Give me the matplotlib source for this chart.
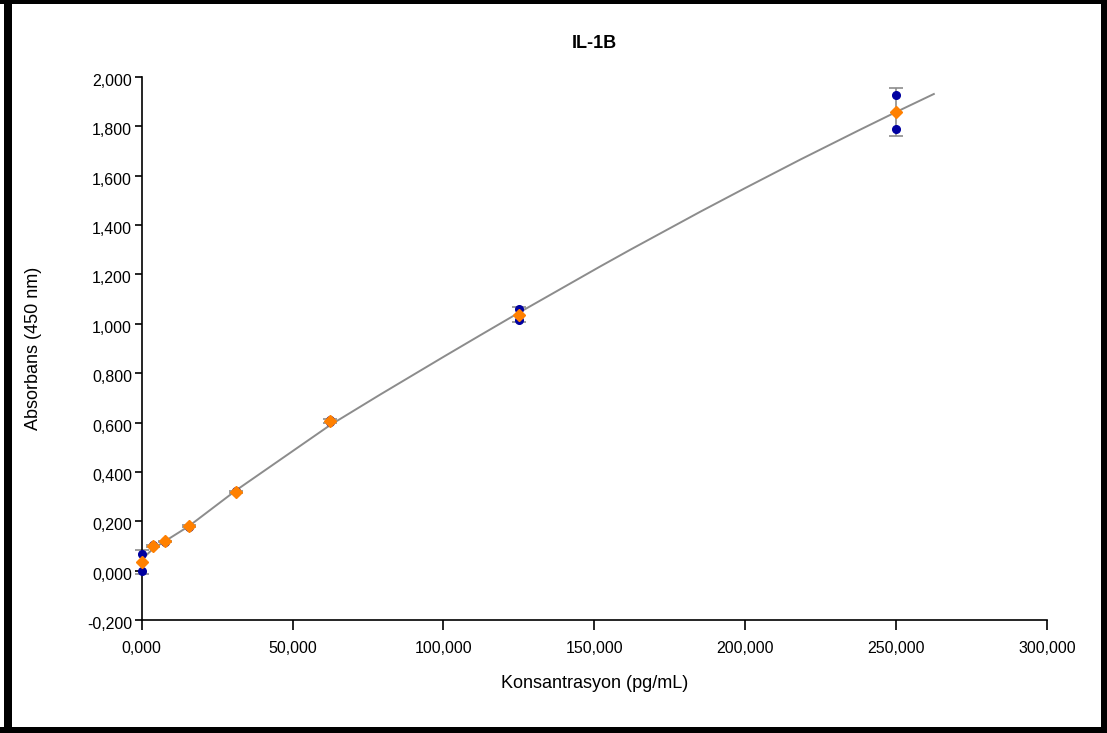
import numpy as np
import matplotlib.pyplot as plt
from matplotlib.ticker import FuncFormatter
from matplotlib.patches import Rectangle
from matplotlib.transforms import ScaledTranslation

plt.rcParams['font.family'] = ['Liberation Sans', 'DejaVu Sans']

# standard concentrations (pg/mL) and the two replicate absorbance readings
conc = [0, 3.906, 7.8125, 15.625, 31.25, 62.5, 125, 250]
rep1 = [0.069, 0.104, 0.121, 0.182, 0.321, 0.612, 1.058, 1.927]
rep2 = [0.000, 0.098, 0.117, 0.176, 0.317, 0.602, 1.017, 1.788]

# fitted standard curve
fit_x = [0, 3.906, 7.8125, 15.625, 31.25, 62.5, 79.0, 100, 112.1, 125, 151.9,
         161.9, 185.1, 200, 218.2, 237.5, 250, 262.5]
fit_y = [0.045, 0.09, 0.12, 0.18, 0.325, 0.59, 0.713, 0.866, 0.953, 1.045, 1.232,
         1.30, 1.454, 1.550, 1.665, 1.783, 1.858, 1.931]

reps = np.array([rep1, rep2])
mean = reps.mean(axis=0)
sd = reps.std(axis=0, ddof=1)

fig = plt.figure(figsize=(11.07, 7.33), dpi=100)
ax = fig.add_axes([0.1280, 0.1542, 0.8178, 0.7408])

ax.plot(fit_x, fit_y, color='#8c8c8c', lw=1.4, zorder=1)
ax.errorbar(conc, mean, yerr=sd, fmt='none', ecolor='#8c8c8c', elinewidth=1.2,
            capsize=5, capthick=1.2, zorder=2, clip_on=False)
for r in (rep1, rep2):
    ax.plot(conc, r, 'o', color='#0000a0', ms=5.5, mec='#0000a0', ls='none',
            zorder=3, clip_on=False)
ax.plot(conc, mean, 'D', color='#ff8000', ms=6, mec='#ff8000', ls='none',
        zorder=4, clip_on=False)

ax.set_xlim(0, 300)
ax.set_ylim(-0.2, 2.0)
ax.set_xticks(np.arange(0, 301, 50))
ax.set_yticks(np.arange(-0.2, 2.01, 0.2))

fmt = FuncFormatter(lambda v, p: f'{v:.3f}'.replace('.', ','))
ax.xaxis.set_major_formatter(fmt)
ax.yaxis.set_major_formatter(fmt)

for s in ('top', 'right'):
    ax.spines[s].set_visible(False)
for s in ('left', 'bottom'):
    ax.spines[s].set_linewidth(1.2)
ax.tick_params(axis='y', direction='out', length=5, width=1.2, labelsize=11.5, pad=2)
ax.tick_params(axis='x', direction='out', length=7, width=1.2, labelsize=11.5, pad=8)

# y tick labels sit a little below their ticks in the original
shift = ScaledTranslation(0, -3 / 100, fig.dpi_scale_trans)
for lab in ax.get_yticklabels():
    lab.set_transform(lab.get_transform() + shift)

ax.set_xlabel('Konsantrasyon (pg/mL)', fontsize=13, labelpad=14)
ax.set_ylabel('Absorbans (450 nm)', fontsize=13, labelpad=32)
fig.text(0.5365, 0.941, 'IL-1B', ha='center', va='center', fontsize=13, fontweight='bold')

# black frame round the picture
W, H = 1107, 733
for (x0, y0, w, h) in [(4, 0, 8, H), (0, H - 4, W, 4), (1101, 0, 6, H), (0, 0, W, 6)]:
    fig.patches.append(Rectangle((x0 / W, y0 / H), w / W, h / H, transform=fig.transFigure,
                                 facecolor='black', edgecolor='none', zorder=10))

fig.savefig('out.png', dpi=100)
